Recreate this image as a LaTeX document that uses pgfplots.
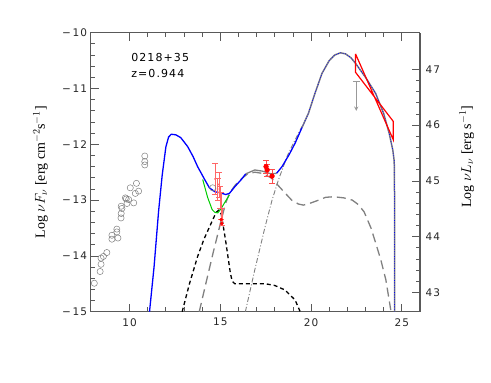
\documentclass[border=0pt]{standalone}
\usepackage{pgfplots}
\pgfplotsset{compat=1.18}
\usepackage{fontspec}
\setmainfont{Liberation Serif}
\newfontfamily\tickfont{DejaVu Sans}[LetterSpace=10]

\definecolor{axgray}{gray}{0.35}
\definecolor{modgray}{gray}{0.5}

\begin{document}
\begin{tikzpicture}
\pgfplotsset{
  myaxis/.style={
    scale only axis, width=329.3pt, height=279pt,
    xmin=7.86, xmax=26.0,
    axis line style={axgray, line width=1pt},
    tick style={axgray, line width=0.8pt},
    major tick length=8pt, minor tick length=4.5pt,
    tick align=inside,
    ticklabel style={font=\tickfont\fontsize{10.5}{12}\selectfont, black!85},
    label style={font=\fontsize{14}{16}\selectfont},
  }
}
\begin{axis}[myaxis,
  ymin=-15, ymax=-10,
  xtick={10,15,20,25}, xticklabels={10,15,20,25},
  minor x tick num=4, xtick pos=both,
  ytick={-15,-14,-13,-12,-11,-10},
  yticklabels={−\,15,−\,14,−\,13,−\,12,−\,11,−\,10},
  minor y tick num=4, ytick pos=left,
  xticklabel style={yshift=-3pt},
  ylabel={Log $\nu F_\nu$ [erg cm$^{-2}$s$^{-1}$]},
  ylabel style={at={(rel axis cs:-0.152,0.5)}, anchor=center},
  clip=true,
]
% bounding box helpers
\coordinate (bbsw) at (rel axis cs:-0.2754,-0.2520);
\coordinate (bbne) at (rel axis cs:1.2156,1.1172);

% archival radio/IR points
\addplot[only marks, mark=o, mark size=3.1pt, modgray, line width=0.5pt] coordinates {
(10.84,-12.21) (10.84,-12.31) (10.84,-12.37)
(10.38,-12.70) (10.04,-12.78) (10.50,-12.84) (10.32,-12.88)
(9.77,-12.96) (9.95,-12.99) (10.23,-13.05) (9.86,-13.06) (9.82,-12.98)
(9.54,-13.11) (9.58,-13.15) (9.54,-13.24) (9.53,-13.32)
(9.30,-13.52) (9.30,-13.57) (9.03,-13.63) (9.03,-13.70) (9.36,-13.68)
(8.75,-13.94) (8.56,-14.01) (8.43,-14.04) (8.43,-14.15) (8.38,-14.28)
(8.06,-14.49) (14.58,-12.78)
};

% disk (black short dashed)
\addplot[black, line width=1.3pt, dash pattern=on 4pt off 3pt] coordinates {
(12.9,-15) (13.3,-14.5) (13.75,-14.01) (14.1,-13.7) (14.49,-13.42)
(14.77,-13.22) (14.92,-13.18) (15.05,-13.25) (15.14,-13.42) (15.28,-13.7)
(15.42,-14.01) (15.55,-14.3) (15.65,-14.45) (15.8,-14.5) (17.5,-14.5)
(18.0,-14.53) (18.56,-14.61) (19.12,-14.79) (19.4,-15)
};

% SSC (grey long dashed)
\addplot[modgray, line width=1.3pt, dash pattern=on 9pt off 5pt] coordinates {
(13.84,-15) (14.2,-14.5) (14.6,-13.95) (15.05,-13.36) (15.3,-13.05)
(15.5,-12.88) (15.8,-12.74) (16.16,-12.62) (16.5,-12.53) (16.9,-12.5)
(17.3,-12.52) (17.8,-12.6) (18.0,-12.67) (18.5,-12.85) (18.93,-13.0)
(19.3,-13.07) (19.58,-13.09) (20.0,-13.05) (20.42,-13.0) (20.8,-12.95)
(21.25,-12.94) (21.8,-12.96) (22.27,-13.0) (22.6,-13.08) (22.92,-13.21)
(23.3,-13.5) (23.56,-13.77) (23.85,-14.08) (24.12,-14.43) (24.39,-14.97)
};

% EC (grey dash-dot)
\addplot[modgray, line width=0.9pt, dash pattern=on 5pt off 2pt on 1pt off 2pt] coordinates {
(16.38,-15) (16.9,-14.25) (17.45,-13.5) (17.85,-13.0) (18.2,-12.64)
(18.7,-12.2) (19.12,-11.92) (19.5,-11.68)
};

% green model
\addplot[green!80!black, line width=1pt] coordinates {
(14.03,-12.63) (14.3,-12.95) (14.55,-13.17) (14.7,-13.22) (14.86,-13.23)
(15.05,-13.15) (15.23,-13.05) (15.5,-12.91)
};

% total model, low part
\addplot[blue, line width=1.3pt] coordinates {
(11.1,-15.0) (11.35,-14.2) (11.6,-13.2) (11.8,-12.55) (12.0,-12.05)
(12.15,-11.87) (12.3,-11.82) (12.55,-11.83) (12.82,-11.88) (13.2,-12.04)
(13.5,-12.22) (13.75,-12.40) (14.12,-12.62) (14.4,-12.78) (14.7,-12.85)
(15.0,-12.87) (15.3,-12.9) (15.5,-12.88) (15.8,-12.76) (16.16,-12.63)
(16.4,-12.53)
};
\addplot[modgray, line width=1.3pt] coordinates {
(16.4,-12.53) (16.9,-12.46) (17.3,-12.48) (17.8,-12.53) (18.1,-12.52)
};
\addplot[blue, line width=1.3pt] coordinates {
(18.1,-12.52) (18.4,-12.40) (18.8,-12.18) (19.12,-11.98) (19.5,-11.70)
};
% total model, high part (grey with blue dots)
\addplot[modgray, line width=1.5pt] coordinates {
(19.5,-11.70) (19.86,-11.44) (20.2,-11.10) (20.6,-10.73) (21.0,-10.50)
(21.3,-10.40) (21.62,-10.36) (21.9,-10.38) (22.2,-10.45) (22.45,-10.55)
(23.0,-10.80) (23.56,-11.09) (24.0,-11.45) (24.3,-11.80) (24.5,-12.10)
(24.58,-12.3) (24.6,-13) (24.6,-15)
};
\addplot[blue, line width=0.7pt, dash pattern=on 0.8pt off 1.6pt] coordinates {
(19.5,-11.70) (19.86,-11.44) (20.2,-11.10) (20.6,-10.73) (21.0,-10.50)
(21.3,-10.40) (21.62,-10.36) (21.9,-10.38) (22.2,-10.45) (22.45,-10.55)
(23.0,-10.80) (23.56,-11.09) (24.0,-11.45) (24.3,-11.80) (24.5,-12.10)
(24.58,-12.3) (24.6,-13) (24.6,-15)
};

% optical data
\addplot[only marks, mark=*, mark size=0.8pt, red!60,
  error bars/.cd, y dir=both, y explicit,
  error bar style={red!60, line width=0.8pt},
  error mark options={rotate=90, mark size=3pt, red!60}] coordinates {
(14.72,-12.62) +- (0,0.28)
(14.85,-12.80) +- (0,0.20)
(14.93,-12.72) +- (0,0.22)
(15.00,-12.95) +- (0,0.20)
(15.05,-13.10) +- (0,0.25)
(15.10,-13.30) +- (0,0.15)
};
\addplot[only marks, mark=*, mark size=1.6pt, red] coordinates {
(15.05,-13.35) (15.08,-13.42)
};

% X-ray data
\addplot[only marks, mark=*, mark size=2.4pt, red,
  error bars/.cd, y dir=both, y explicit,
  error bar style={red!70, line width=0.8pt},
  error mark options={rotate=90, mark size=3pt, red!70}] coordinates {
(17.52,-12.40) +- (0,0.11)
(17.58,-12.46) +- (0,0.11)
(17.85,-12.57) +- (0,0.13)
};

% gamma-ray upper limit
\addplot[modgray!80, line width=0.9pt] coordinates {(22.30,-10.88) (22.68,-10.88)};
\addplot[modgray!80, line width=0.9pt, -stealth] coordinates {(22.49,-10.88) (22.49,-11.40)};

% gamma-ray bow tie
\addplot[red, line width=1.2pt] coordinates {
(22.45,-10.38) (24.53,-11.92) (24.53,-11.59) (22.45,-10.71) (22.45,-10.38)
};

\node[anchor=west, font=\tickfont\fontsize{11}{13}\selectfont] at (axis cs:9.9,-10.44) {0218+35};
\node[anchor=west, font=\tickfont\fontsize{11}{13}\selectfont] at (axis cs:9.9,-10.73) {z=0.944};
\end{axis}

\begin{axis}[myaxis,
  ymin=42.656, ymax=47.656,
  axis x line=none, axis y line*=right,
  ytick={43,44,45,46,47}, yticklabels={43,44,45,46,47},
  minor y tick num=4,
  yticklabel style={font=\tickfont\fontsize{10.5}{12}\selectfont, black!85, xshift=2pt},
  ylabel={Log $\nu L_\nu$ [erg s$^{-1}$]},
  ylabel style={at={(rel axis cs:1.142,0.555)}, anchor=center, rotate=0},
]
\end{axis}

\pgfresetboundingbox
\path[use as bounding box] (bbsw) rectangle (bbne);
\end{tikzpicture}
\end{document}
